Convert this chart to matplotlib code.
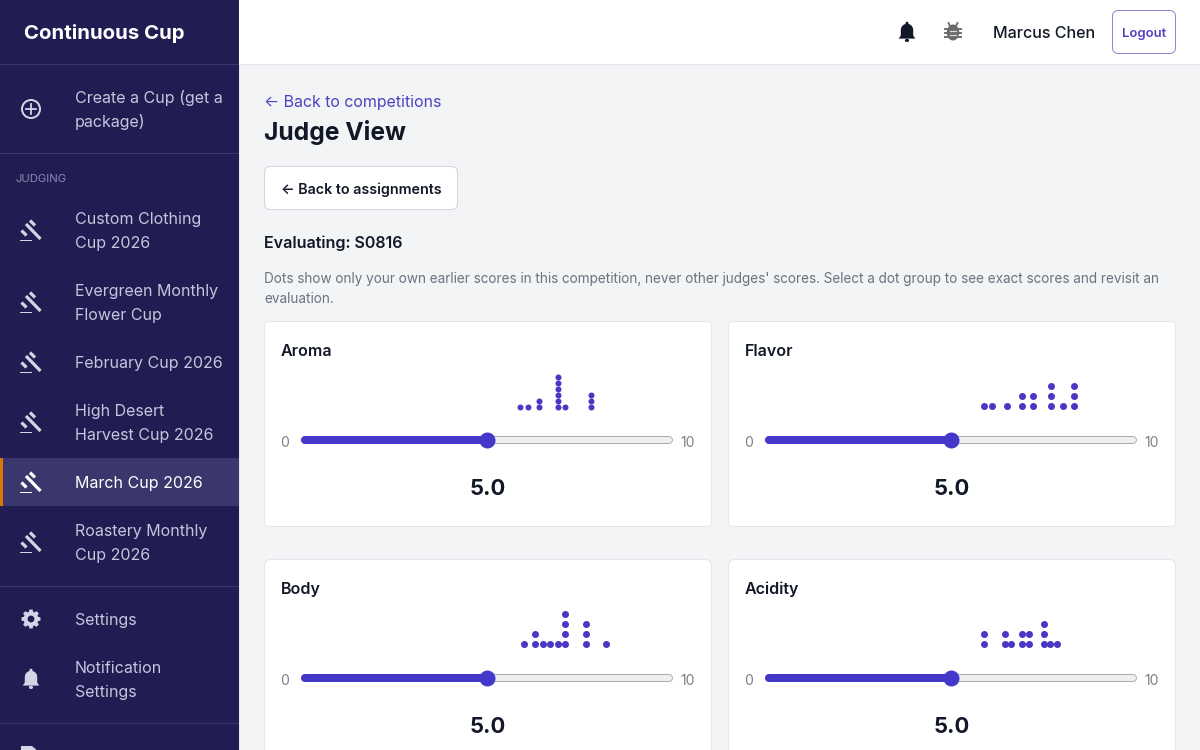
import numpy as np
import matplotlib
matplotlib.use("Agg")
import matplotlib.pyplot as plt
from matplotlib.patches import Rectangle, FancyBboxPatch, Circle, Polygon, Ellipse

plt.rcParams['font.family'] = ['Inter', 'DejaVu Sans']

# ---------- data ----------
card_titles = ["Aroma", "Flavor", "Body", "Acidity"]
aroma_scores = [5.9, 6.1, 6.4, 6.9, 7.1, 7.8]
aroma_counts = [1, 1, 2, 6, 1, 3]
flavor_scores = [5.9, 6.1, 6.5, 6.9, 7.2, 7.7, 8.0, 8.3]
flavor_counts = [1, 1, 1, 2, 2, 3, 1, 3]
body_scores = [6.0, 6.3, 6.5, 6.7, 6.9, 7.1, 7.65, 8.2]
body_counts = [1, 2, 1, 1, 1, 4, 3, 1]
acidity_scores = [5.9, 6.45, 6.6, 6.9, 7.1, 7.5, 7.65, 7.85]
acidity_counts = [2, 2, 1, 2, 2, 3, 1, 1]
current_score = 5.0
scale_min = 0
scale_max = 10
nav_judging = ["Custom Clothing\nCup 2026", "Evergreen Monthly\nFlower Cup", "February Cup 2026",
               "High Desert\nHarvest Cup 2026", "March Cup 2026", "Roastery Monthly\nCup 2026"]
nav_centers = [230, 302, 362, 422, 482, 542]

INK = "#111827"; SIDE = "#211c52"; NAVTXT = "#c6c5dc"; IND = "#4338ca"; DOT = "#4a38c4"
LINK = "#4f40c0"; GRAY = "#6b7280"; BORDER = "#e5e7eb"; ICON = "#d5d4e6"

fig = plt.figure(figsize=(12, 7.5), dpi=100, facecolor="#f3f4f6")
ui = fig.add_axes([0, 0, 1, 1]); ui.set_xlim(0, 1200); ui.set_ylim(750, 0); ui.axis("off")

def px(p): return p * 0.72

def T(x, yc, s, size, color=INK, weight="normal", ha="left", lift=0.36, **kw):
    ui.text(x, yc + lift * size, s, fontsize=px(size), color=color, fontweight=weight,
            ha=ha, va="baseline", **kw)

def R(x, y, w, h, c, z=1):
    ui.add_patch(Rectangle((x, y), w, h, fc=c, ec="none", zorder=z))

def RR(x0, y0, x1, y1, r, fc, ec, lw=1, z=2):
    ui.add_patch(FancyBboxPatch((x0 + r, y0 + r), x1 - x0 - 2 * r, y1 - y0 - 2 * r,
                                boxstyle=f"round,pad={r},rounding_size={r}", fc=fc, ec=ec,
                                lw=px(lw), zorder=z))

def gavel(cx, cy, c):
    for (x0, y0, x1, y1) in [(-1.0, -9.5, 4.0, -4.5), (-9.5, 0.5, -4.5, 5.5), (-5.0, -6.0, 9.5, 9.0)]:
        ui.plot([cx + x0, cx + x1], [cy + y0, cy + y1], color=c, lw=px(3.2),
                solid_capstyle="butt", zorder=4)
    R(cx - 11, cy + 9.5, 12, 1.6, c, 4)

def bell(cx, cy, c, z=4):
    th = np.linspace(np.pi, 0, 30)
    pts = [(cx - 8.2, cy + 6.6), (cx - 6.2, cy + 3.4)]
    pts += [(cx + 6.2 * np.cos(t), cy - 2.0 - 6.2 * np.sin(t)) for t in th]
    pts += [(cx + 6.2, cy + 3.4), (cx + 8.2, cy + 6.6)]
    ui.add_patch(Polygon(pts, fc=c, ec="none", zorder=z))
    ui.add_patch(Circle((cx, cy - 8.8), 1.5, fc=c, ec="none", zorder=z))
    ui.add_patch(Ellipse((cx, cy + 8.4), 4.2, 3.2, fc=c, ec="none", zorder=z))

def gear(cx, cy, c):
    n = 8; pts = []
    for i in range(n):
        a = 2 * np.pi * i / n
        for da, r in [(-0.30, 7.4), (-0.17, 9.6), (0.17, 9.6), (0.30, 7.4)]:
            pts.append((cx + r * np.cos(a + da), cy + r * np.sin(a + da)))
    ui.add_patch(Polygon(pts, fc=c, ec="none", zorder=4))
    ui.add_patch(Circle((cx, cy), 3.4, fc=SIDE, ec="none", zorder=5))

def bug(cx, cy, c):
    ui.add_patch(Ellipse((cx, cy + 0.5), 12.5, 16, fc=c, ec="none", zorder=4))
    for dy in (-3.0, 1.0, 5.0):
        ui.plot([cx - 8.2, cx + 8.2], [cy + dy, cy + dy], color=c, lw=px(1.9), zorder=4)
    for sx in (-1, 1):
        ui.plot([cx + sx * 3, cx + sx * 4.5], [cy - 6, cy - 9], color=c, lw=px(1.8), zorder=4)
    for dy in (-0.8, 3.2):
        ui.plot([cx - 3, cx + 3], [cy + dy, cy + dy], color="#d9d9d9", lw=px(1.2), zorder=5)

# ---------- sidebar ----------
R(0, 0, 239, 750, SIDE)
for y in (64, 153, 586, 723):
    R(0, y, 239, 1, "#3a3670", 2)
R(0, 458, 239, 48, "#3a376c", 2)
R(0, 458, 3, 48, "#d97706", 3)
T(24, 32, "Continuous Cup", 20.4, "white", "bold")
T(75, 97, "Create a Cup (get a", 16, NAVTXT)
T(75, 121, "package)", 16, NAVTXT)
ui.add_patch(Circle((31, 109), 9, fc="none", ec=ICON, lw=px(2), zorder=4))
ui.plot([26, 36], [109, 109], color=ICON, lw=px(1.8), zorder=4)
ui.plot([31, 31], [104, 114], color=ICON, lw=px(1.8), zorder=4)
T(16, 178, "JUDGING", 11.3, "#8e8cb4")
for label, yc in zip(nav_judging, nav_centers):
    active = label == "March Cup 2026"
    col = "white" if active else NAVTXT
    lines = label.split("\n")
    for i, ln in enumerate(lines):
        T(75, yc + (i - (len(lines) - 1) / 2) * 24, ln, 16, col)
    gavel(31, yc, "white" if active else ICON)
gear(31, 619, ICON)
T(75, 619, "Settings", 16, NAVTXT)
bell(31, 679, ICON)
T(75, 667, "Notification", 16, NAVTXT)
T(75, 691, "Settings", 16, NAVTXT)
ui.add_patch(Polygon([(21, 752), (21, 746), (32, 746), (39, 752)], fc=ICON, ec="none", zorder=4))

# ---------- header ----------
R(239, 0, 961, 64, "white")
R(239, 64, 961, 1, BORDER, 2)
R(239, 65, 1, 685, BORDER, 2)
bell(907, 32, INK)
bug(953, 32, "#6b6b6b")
T(993, 32, "Marcus Chen", 16.1, INK, "medium")
RR(1112.5, 10.5, 1175.5, 53.5, 6, "white", "#8f85d2")
T(1144, 32, "Logout", 13, LINK, "semibold", ha="center", zorder=5)

# ---------- page heading ----------
T(264, 101, "← Back to competitions", 15.9, LINK)
T(264, 131, "Judge View", 24.6, INK, "bold")
RR(264.5, 166.5, 457.5, 209.5, 6, "white", "#d1d5db")
T(281, 189, "← Back to assignments", 14.3, INK, "semibold", zorder=5)
T(264, 242.5, "Evaluating: S0816", 16.1, INK, "semibold")
T(264, 278, "Dots show only your own earlier scores in this competition, never other judges' scores. Select a dot group to see exact scores and revisit an", 13.56, GRAY)
T(264, 298, "evaluation.", 13.56, GRAY)

# ---------- cards ----------
cards = [
    (264, 321, aroma_scores, aroma_counts, 407.3, 6, 6.0),
    (728, 321, flavor_scores, flavor_counts, 406.3, 10, 7.0),
    (264, 559, body_scores, body_counts, 644.3, 10, 7.0),
    (728, 559, acidity_scores, acidity_counts, 644.3, 10, 7.0),
]
for title, (x0, y0, scores, counts, base, step, dia) in zip(card_titles, cards):
    RR(x0 + .5, y0 + .5, x0 + 447.5, y0 + 205.5, 6, "white", BORDER)
    T(x0 + 17, y0 + 29, title, 16, INK, "semibold", zorder=5)
    track = y0 + 119
    T(x0 + 21, track + 1.5, "0", 14, "#7b818c", ha="center", zorder=5)
    T(x0 + 424, track + 1.5, "10", 14, "#7b818c", ha="center", zorder=5)
    T(x0 + 224, y0 + 166, f"{current_score:.1f}", 22, INK, "bold", ha="center", zorder=5)

    # axes: x is the score scale, y is pixels above the dot baseline
    left = x0 + 37; width = 372; top = y0 + 40; bot = y0 + 140
    ax = fig.add_axes([left / 1200, 1 - bot / 750, width / 1200, (bot - top) / 750], zorder=6)
    ax.patch.set_alpha(0); ax.axis("off")
    ax.set_xlim(scale_min, scale_max)
    ax.set_ylim(base - bot, base - top)
    xs = np.repeat(scores, counts)
    ys = np.concatenate([np.arange(c) * step for c in counts])
    ax.scatter(xs, ys, s=px(dia) ** 2, color=DOT, linewidths=0, clip_on=False, zorder=3)
    ty = base - track
    ax.plot([scale_min + .1, scale_max - .1], [ty, ty], color="#adadad", lw=px(8), solid_capstyle="round", clip_on=False, zorder=1)
    ax.plot([scale_min + .1, scale_max - .1], [ty, ty], color="#efefef", lw=px(6), solid_capstyle="round", clip_on=False, zorder=1)
    ax.plot([scale_min + .1, current_score], [ty, ty], color=IND, lw=px(8), solid_capstyle="round", clip_on=False, zorder=2)
    ax.scatter([current_score], [ty], s=px(16) ** 2, color=IND, linewidths=0, clip_on=False, zorder=3)

fig.savefig("out.png", dpi=100, facecolor=fig.get_facecolor())
